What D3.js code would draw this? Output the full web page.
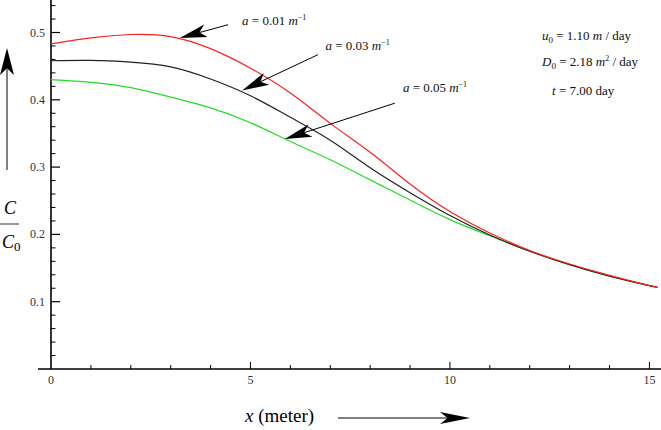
<!DOCTYPE html>
<html>
<head>
<meta charset="utf-8">
<script src="https://cdn.jsdelivr.net/npm/d3@7"></script>
<style>
  body { margin: 0; background: #fff; }
  svg text { font-family: "Liberation Serif", "Times New Roman", serif; }
  .tick-label { font-size: 12px; fill: #333; }
</style>
</head>
<body>
<svg id="viz" width="661" height="430"></svg>
<script>
// distance x (meter) where the curves were read
var xs = [0, 1, 2, 3, 4, 5, 6, 7, 8, 9, 10, 11, 12, 13, 14, 15, 15.2];
// C/C0 for a = 0.01, 0.03, 0.05 m^-1
var red = [0.483, 0.492, 0.497, 0.494, 0.476, 0.447, 0.410, 0.365, 0.322, 0.275, 0.234, 0.202, 0.176, 0.156, 0.139, 0.124, 0.122];
var black = [0.458, 0.4585, 0.456, 0.449, 0.431, 0.406, 0.374, 0.340, 0.299, 0.262, 0.228, 0.199, 0.175, 0.155, 0.138, 0.124, 0.122];
var green = [0.430, 0.426, 0.418, 0.404, 0.388, 0.366, 0.338, 0.311, 0.281, 0.251, 0.222, 0.198, 0.175, 0.155, 0.138, 0.124, 0.122];

var xMajor = [0, 5, 10, 15];
var yMajor = [0.1, 0.2, 0.3, 0.4, 0.5];
var yLabels = ["0.1", "0.2", "0.3", "0.4", "0.5"];

var series = [
  { vals: green, color: "#22dd22" },
  { vals: black, color: "#222" },
  { vals: red, color: "#ff2020" }
];

// arrows: label text, label pos, tail and tip (data coords)
var notes = [
  { a: "0.01", lx: 4.79, ly: 0.5105, tail: [4.44, 0.5116], tip: [3.23, 0.492] },
  { a: "0.03", lx: 6.88, ly: 0.474, tail: [6.69, 0.467], tip: [4.79, 0.414] },
  { a: "0.05", lx: 8.82, ly: 0.412, tail: [8.62, 0.395], tip: [5.86, 0.3418] }
];

var svg = d3.select("#viz"),
  width = +svg.attr("width"),
  height = +svg.attr("height");

var x = d3.scaleLinear().domain([0, 15.29]).range([51, 661]);
var y = d3.scaleLinear().domain([0, 0.5483]).range([369, 0]);

// minor ticks
var xMinor = d3.range(1, 16).filter(function(d) { return d % 5 != 0; });
var yMinor = d3.range(0.02, 0.55, 0.02).filter(function(d) {
  return Math.abs(d * 10 - Math.round(d * 10)) > 0.01;
});

var axes = svg.append("g").attr("stroke", "#000");

axes.append("line")
  .attr("x1", 38).attr("x2", width)
  .attr("y1", y(0)).attr("y2", y(0))
  .attr("stroke-width", 1.4);
axes.append("line")
  .attr("x1", x(0)).attr("x2", x(0))
  .attr("y1", 0).attr("y2", y(0))
  .attr("stroke-width", 1.6);

axes.selectAll(".xmaj").data(xMajor.slice(1)).enter().append("line")
  .attr("x1", function(d) { return x(d); }).attr("x2", function(d) { return x(d); })
  .attr("y1", y(0)).attr("y2", y(0) - 7)
  .attr("stroke-width", 1);
axes.selectAll(".xmin").data(xMinor).enter().append("line")
  .attr("x1", function(d) { return x(d); }).attr("x2", function(d) { return x(d); })
  .attr("y1", y(0)).attr("y2", y(0) - 4)
  .attr("stroke-width", 1);
axes.selectAll(".ymaj").data(yMajor).enter().append("line")
  .attr("x1", x(0)).attr("x2", x(0) + 9)
  .attr("y1", function(d) { return y(d); }).attr("y2", function(d) { return y(d); })
  .attr("stroke-width", 1.2);
axes.selectAll(".ymin").data(yMinor).enter().append("line")
  .attr("x1", x(0)).attr("x2", x(0) + 4.5)
  .attr("y1", function(d) { return y(d); }).attr("y2", function(d) { return y(d); })
  .attr("stroke-width", 1);

svg.selectAll(".xl").data(xMajor).enter().append("text")
  .attr("class", "tick-label")
  .attr("x", function(d) { return x(d); })
  .attr("y", y(0) + 15)
  .attr("text-anchor", "middle")
  .text(function(d) { return d; });

svg.selectAll(".yl").data(yMajor).enter().append("text")
  .attr("class", "tick-label")
  .attr("x", x(0) - 6)
  .attr("y", function(d) { return y(d) + 4; })
  .attr("text-anchor", "end")
  .text(function(d, i) { return yLabels[i]; });

// curves
var line = d3.line()
  .x(function(d) { return x(d[0]); })
  .y(function(d) { return y(d[1]); })
  .curve(d3.curveNatural);

svg.append("g").selectAll("path").data(series).enter().append("path")
  .attr("d", function(s) { return line(xs.map(function(v, i) { return [v, s.vals[i]]; })); })
  .attr("fill", "none")
  .attr("stroke", function(s) { return s.color; })
  .attr("stroke-width", 1.2);

function arrow(g, x1, y1, x2, y2, len, half) {
  var dx = x2 - x1, dy = y2 - y1, L = Math.sqrt(dx * dx + dy * dy);
  var ux = dx / L, uy = dy / L, nx = -uy, ny = ux;
  var bx = x2 - ux * len, by = y2 - uy * len;
  var mx = x2 - ux * len * 0.75, my = y2 - uy * len * 0.75;
  g.append("line")
    .attr("x1", x1).attr("y1", y1).attr("x2", mx).attr("y2", my)
    .attr("stroke", "#000").attr("stroke-width", 1);
  g.append("path")
    .attr("d", "M" + x2 + "," + y2 +
      "L" + (bx + nx * half) + "," + (by + ny * half) +
      "L" + mx + "," + my +
      "L" + (bx - nx * half) + "," + (by - ny * half) + "Z")
    .attr("fill", "#000");
}

var ann = svg.append("g");
notes.forEach(function(n) {
  arrow(ann, x(n.tail[0]), y(n.tail[1]), x(n.tip[0]), y(n.tip[1]), 27, 6.5);
  var t = ann.append("text").attr("x", x(n.lx)).attr("y", y(n.ly)).attr("font-size", 13).attr("fill", "#111");
  t.append("tspan").attr("font-style", "italic").text("a");
  t.append("tspan").text(" = " + n.a + " ");
  t.append("tspan").attr("font-style", "italic").text("m");
  t.append("tspan").attr("font-size", 8).attr("dy", -5).text("\u22121");
});

// parameters
var params = svg.append("g").attr("font-size", 13).attr("fill", "#111");
var p1 = params.append("text").attr("x", 542).attr("y", 40);
p1.append("tspan").attr("font-style", "italic").text("u");
p1.append("tspan").attr("font-size", 9).attr("dy", 3).text("0");
p1.append("tspan").attr("dy", -3).text(" = 1.10 ");
p1.append("tspan").attr("font-style", "italic").text("m");
p1.append("tspan").text(" / day");

var p2 = params.append("text").attr("x", 542).attr("y", 66);
p2.append("tspan").attr("font-style", "italic").text("D");
p2.append("tspan").attr("font-size", 9).attr("dy", 3).text("0");
p2.append("tspan").attr("dy", -3).text(" = 2.18 ");
p2.append("tspan").attr("font-style", "italic").text("m");
p2.append("tspan").attr("font-size", 8).attr("dy", -5).text("2");
p2.append("tspan").attr("dy", 5).text(" / day");

var p3 = params.append("text").attr("x", 552).attr("y", 95);
p3.append("tspan").attr("font-style", "italic").text("t");
p3.append("tspan").text(" = 7.00 day");

// y label with arrow
arrow(svg, 7, 170, 7, 48, 27, 7);
svg.append("text").attr("x", 10).attr("y", 214).attr("text-anchor", "middle")
  .attr("font-size", 18).attr("font-style", "italic").text("C");
svg.append("line").attr("x1", 0).attr("x2", 19).attr("y1", 224).attr("y2", 224)
  .attr("stroke", "#333").attr("stroke-width", 1);
var c0 = svg.append("text").attr("x", 2).attr("y", 248).attr("font-size", 18);
c0.append("tspan").attr("font-style", "italic").text("C");
c0.append("tspan").attr("font-size", 13).attr("dy", 3).text("0");

// x label with arrow
var xl = svg.append("text").attr("x", 245).attr("y", 422).attr("font-size", 19);
xl.append("tspan").attr("font-style", "italic").text("x");
xl.append("tspan").text(" (meter)");
arrow(svg, 338, 418, 470, 418, 30, 6);
</script>
</body>
</html>
